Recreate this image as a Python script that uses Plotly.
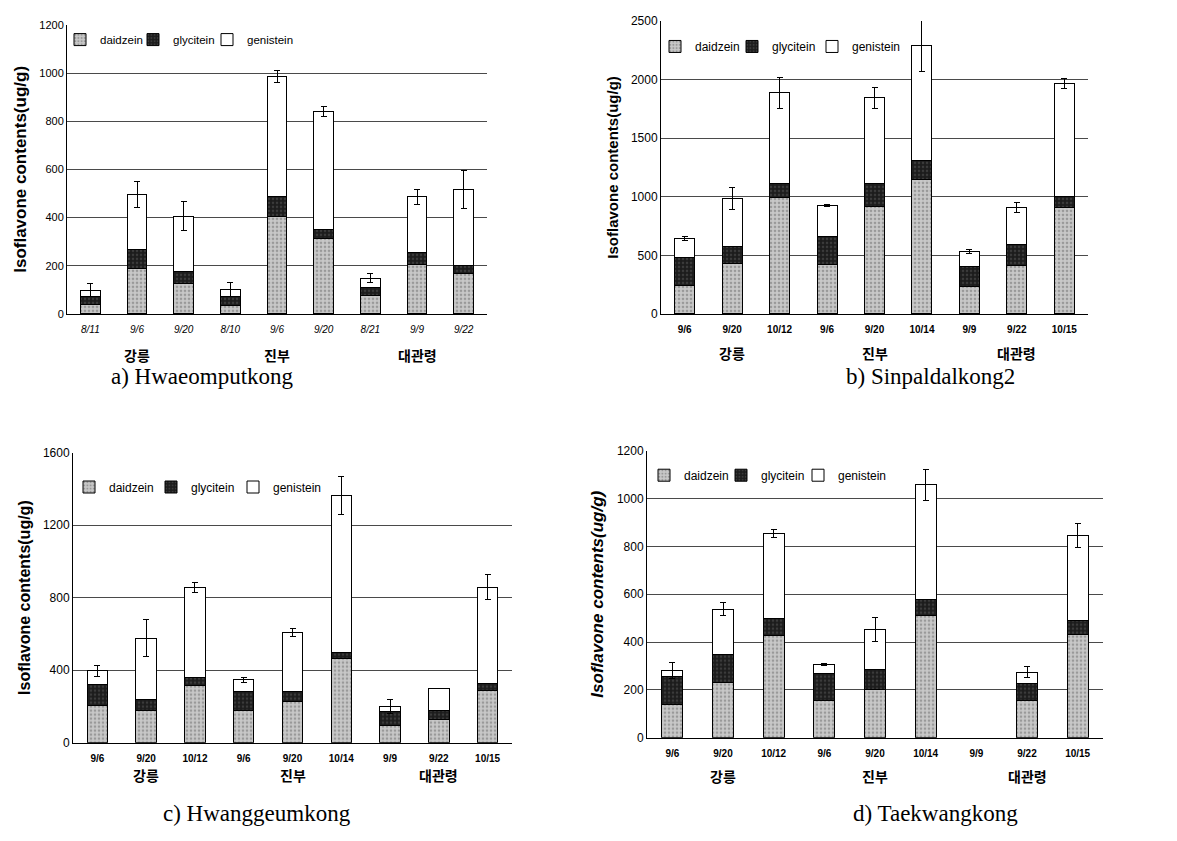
import plotly.graph_objects as go

# ---------------- data ----------------
groups = ["강릉", "진부", "대관령"]
series_names = ["daidzein", "glycitein", "genistein"]

cats_a = ["8/11", "9/6", "9/20", "8/10", "9/6", "9/20", "8/21", "9/9", "9/22"]
daidzein_a = [40, 189, 128, 34, 403, 315, 77, 205, 169]
glycitein_a = [34, 79, 50, 40, 83, 35, 31, 52, 34]
genistein_a = [25, 228, 227, 27, 498, 490, 41, 229, 313]
err_a = [27, 55, 60, 30, 25, 20, 20, 30, 78]

cats_b = ["9/6", "9/20", "10/12", "9/6", "9/20", "10/14", "9/9", "9/22", "10/15"]
daidzein_b = [243, 434, 993, 420, 917, 1147, 238, 411, 909]
glycitein_b = [241, 139, 117, 243, 193, 162, 168, 182, 90]
genistein_b = [159, 412, 775, 260, 733, 982, 125, 316, 967]
err_b = [20, 97, 130, 8, 90, 220, 15, 45, 45]

cats_c = ["9/6", "9/20", "10/12", "9/6", "9/20", "10/14", "9/9", "9/22", "10/15"]
daidzein_c = [207, 180, 316, 180, 226, 466, 94, 126, 289]
glycitein_c = [112, 60, 41, 103, 57, 34, 77, 54, 36]
genistein_c = [78, 337, 500, 63, 325, 863, 29, 118, 532]
err_c = [30, 100, 27, 15, 24, 103, 38, 0, 69]

cats_d = ["9/6", "9/20", "10/12", "9/6", "9/20", "10/14", "9/9", "9/22", "10/15"]
daidzein_d = [137, 233, 428, 157, 202, 513, None, 157, 431]
glycitein_d = [119, 113, 69, 113, 85, 66, None, 69, 57]
genistein_d = [24, 192, 358, 35, 164, 478, None, 48, 357]
err_d = [34, 27, 16, 5, 50, 65, None, 22, 50]

captions = ["a) Hwaeomputkong", "b) Sinpaldalkong2", "c) Hwanggeumkong", "d) Taekwangkong"]
y_max = [1200, 2500, 1600, 1200]
y_dtick = [200, 500, 400, 200]

# ---------------- layout settings ----------------
W, H = 1177, 841
OFF = 8  # page body margin
def px_x(p): return (p - OFF) / W
def px_y(p): return 1 - (p - OFF) / H

panels = [
    dict(cats=cats_a, d=daidzein_a, g=glycitein_a, n=genistein_a, e=err_a,
         xdom=[px_x(67), px_x(487)], ydom=[px_y(312), px_y(18)],
         legx=[60, 133, 207], legy=33, legfont=11.5, grp_y=px_y(354), cap=(px_x(202), px_y(376)),
         tickstyle="italic", tickweight="normal", ytick=11, ytitle_size=17, ytitle_style="normal"),
    dict(cats=cats_b, d=daidzein_b, g=glycitein_b, n=genistein_b, e=err_b,
         xdom=[px_x(661), px_x(1088)], ydom=[px_y(312), px_y(14)],
         legx=[655, 732, 812], legy=40, legfont=12, grp_y=px_y(352), cap=(px_x(930), px_y(376)),
         tickstyle="normal", tickweight="bold", ytick=12, ytitle_size=15, ytitle_style="normal"),
    dict(cats=cats_c, d=daidzein_c, g=glycitein_c, n=genistein_c, e=err_c,
         xdom=[px_x(73), px_x(512)], ydom=[px_y(748), px_y(453)],
         legx=[69, 151, 233], legy=488, legfont=12, grp_y=px_y(781), cap=(px_x(257), px_y(820)),
         tickstyle="normal", tickweight="bold", ytick=12, ytitle_size=16, ytitle_style="normal"),
    dict(cats=cats_d, d=daidzein_d, g=glycitein_d, n=genistein_d, e=err_d,
         xdom=[px_x(647), px_x(1103)], ydom=[px_y(743), px_y(451)],
         legx=[644, 721, 798], legy=476, legfont=12, grp_y=px_y(782), cap=(px_x(935), px_y(820)),
         tickstyle="normal", tickweight="bold", ytick=12, ytitle_size=17, ytitle_style="italic"),
]

fig = go.Figure()
layout = dict(
    width=W, height=H, barmode="stack",
    paper_bgcolor="white", plot_bgcolor="white",
    margin=dict(l=0, r=0, t=0, b=0),
    font=dict(family="Liberation Sans, Arial", color="black"),
    annotations=[],
)

styles = [
    dict(color="#bcbcbc", pattern=dict(shape=".", fgcolor="#6a6a6a", bgcolor="#c8c8c8", size=4, solidity=0.35)),
    dict(color="#1c1c1c", pattern=dict(shape=".", fgcolor="#5a5a5a", bgcolor="#1c1c1c", size=4, solidity=0.3)),
    dict(color="white"),
]

for i, p in enumerate(panels):
    k = "" if i == 0 else str(i + 1)
    xa, ya = "x" + k, "y" + k
    xs = list(range(len(p["cats"])))
    vals = [p["d"], p["g"], p["n"]]
    for j, name in enumerate(series_names):
        n = i * 3 + j + 1
        leg = "legend" if n == 1 else "legend" + str(n)
        kw = {}
        if j == 2:
            kw["error_y"] = dict(type="data", array=p["e"], symmetric=True,
                                 color="black", thickness=1, width=3, visible=True)
        fig.add_trace(go.Bar(
            x=xs, y=vals[j], name=name, xaxis=xa, yaxis=ya, legend=leg,
            width=0.42,
            marker=dict(line=dict(color="black", width=1), **styles[j]),
            showlegend=True, hoverinfo="skip", **kw))
        layout[leg] = dict(
            x=px_x(p["legx"][j]), y=px_y(p["legy"]), xanchor="left", yanchor="middle",
            orientation="h", bgcolor="rgba(0,0,0,0)", font=dict(size=p["legfont"]),
            itemwidth=30)
    layout["xaxis" + k] = dict(
        domain=p["xdom"], anchor=ya, range=[-0.5, len(xs) - 0.5],
        tickmode="array", tickvals=xs, ticktext=p["cats"],
        tickfont=dict(size=10, style=p["tickstyle"], weight=p["tickweight"]),
        showline=True, linecolor="black", linewidth=1, showgrid=False,
        zeroline=False, ticks="", ticklabelstandoff=6, fixedrange=True)
    layout["yaxis" + k] = dict(
        domain=p["ydom"], anchor=xa, range=[0, y_max[i]], dtick=y_dtick[i],
        tickfont=dict(size=p["ytick"]),
        title=dict(text="Isoflavone contents(ug/g)",
                   font=dict(size=p["ytitle_size"], weight="bold", style=p["ytitle_style"]),
                   standoff=8),
        showline=True, linecolor="black", linewidth=1,
        showgrid=True, gridcolor="#4a4a4a", gridwidth=1,
        zeroline=False, ticks="", fixedrange=True)
    for gi, gname in enumerate(groups):
        layout["annotations"].append(dict(
            x=1 + 3 * gi, y=p["grp_y"], xref=xa, yref="paper",
            text=gname, showarrow=False, yanchor="middle",
            font=dict(family="Noto Sans CJK KR", size=14, color="black", weight="bold")))
    layout["annotations"].append(dict(
        x=p["cap"][0], y=p["cap"][1], xref="paper", yref="paper",
        text=captions[i], showarrow=False, xanchor="center", yanchor="middle",
        font=dict(family="Liberation Serif, DejaVu Serif", size=23, color="black")))

fig.update_layout(**layout)
fig.write_html("out.html")
